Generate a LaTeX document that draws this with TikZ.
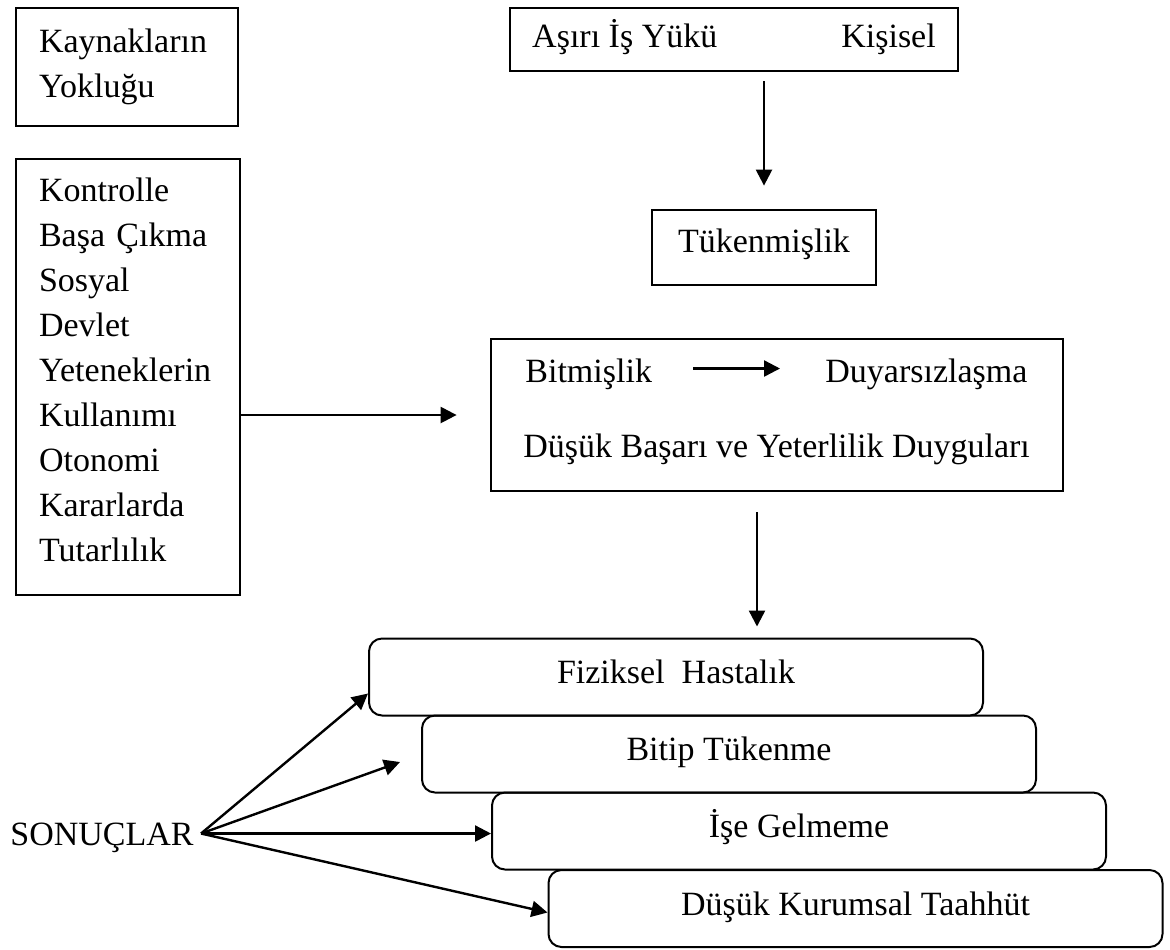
\documentclass[tikz,border=0pt]{standalone}
\usepackage{fontspec}
\setmainfont{Liberation Serif}
\usetikzlibrary{arrows.meta}

\begin{document}
\begin{tikzpicture}[x=0.5pt,y=-0.5pt,
  every node/.style={font=\fontsize{17pt}{22.5pt}\selectfont, inner sep=0pt},
  tek/.style={text height=0.7em, text depth=0.25em},
  kutu/.style={draw, line width=1.4pt},
  yuvarlak/.style={draw, tek, text height=0.92em, line width=1pt, rounded corners=6.5pt, minimum width=307pt, minimum height=38.5pt},
  ok/.style={-{Triangle[length=8pt,width=8pt]}, line width=1.2pt}]

\useasboundingbox (0,0) rectangle (1170,949);

% Left boxes
\node[kutu, minimum height=59pt, text width=88pt, inner xsep=11.5pt, align=left] (kaynak) at (127,67) {Kaynakların\\Yokluğu};
\node[kutu, minimum height=218pt, text width=89pt, inner xsep=11.5pt, align=left] (strateji) at (128,377)
  {Kontrolle\\Başa Çıkma\\Sosyal\\Devlet\\Yeteneklerin\\Kullanımı\\Otonomi\\Kararlarda\\Tutarlılık\rule[-7pt]{0pt}{7pt}};

% Top boxes
\node[kutu, tek, text height=1.05em, minimum width=224pt, minimum height=31.5pt] (yuk) at (734,39.5) {Aşırı İş Yükü\hspace{62pt}Kişisel};
\node[kutu, tek, minimum width=112pt, minimum height=37.5pt] (tuken) at (764,247.5) {Tükenmişlik};

% Burnout dimensions
\node[kutu, minimum width=286pt, minimum height=76pt] (boyut) at (777,415) {};
\node[tek, anchor=base west] (bit) at (525,382) {Bitmişlik};
\node[tek, anchor=base west] (duy) at (825,382) {Duyarsızlaşma};
\node[tek, anchor=base west] (dusuk) at (523,457) {Düşük Başarı ve Yeterlilik Duyguları};

% Outcomes
\node[yuvarlak] (fiz) at (676,677) {Fiziksel\ \ Hastalık};
\node[yuvarlak] (bitip) at (729,754) {Bitip Tükenme};
\node[yuvarlak] (ise) at (799,831) {İşe Gelmeme};
\node[yuvarlak] (taah) at (855.5,908.5) {Düşük Kurumsal Taahhüt};

\node[tek, anchor=base west] (sonuc) at (10,845) {SONUÇLAR};
\coordinate (src) at ([xshift=3.5pt,yshift=3.5pt]sonuc.east);

% Arrows
\draw[ok, shorten <=4.5pt, shorten >=11.5pt] (yuk.south -| tuken.north) -- (tuken.north);
\draw[ok, shorten >=16.5pt] (strateji.east |- boyut.west) -- (boyut.west);
\draw[ok, shorten <=20.5pt, shorten >=22.5pt] ([yshift=4.5pt]bit.east) -- ([yshift=4.5pt]duy.west);
\draw[ok, shorten <=10pt, shorten >=5.5pt] ([xshift=-10pt]boyut.south) -- ([xshift=-10pt]boyut.south |- fiz.north);

\draw[ok] (src) -- ([yshift=11.5pt]fiz.south west);
\draw[ok] (src) -- ([xshift=-10.5pt,yshift=-4pt]bitip.west);
\draw[ok] (src) -- (ise.west |- src);
\draw[ok] (src) -- ([yshift=-2pt]taah.west);

\end{tikzpicture}
\end{document}
